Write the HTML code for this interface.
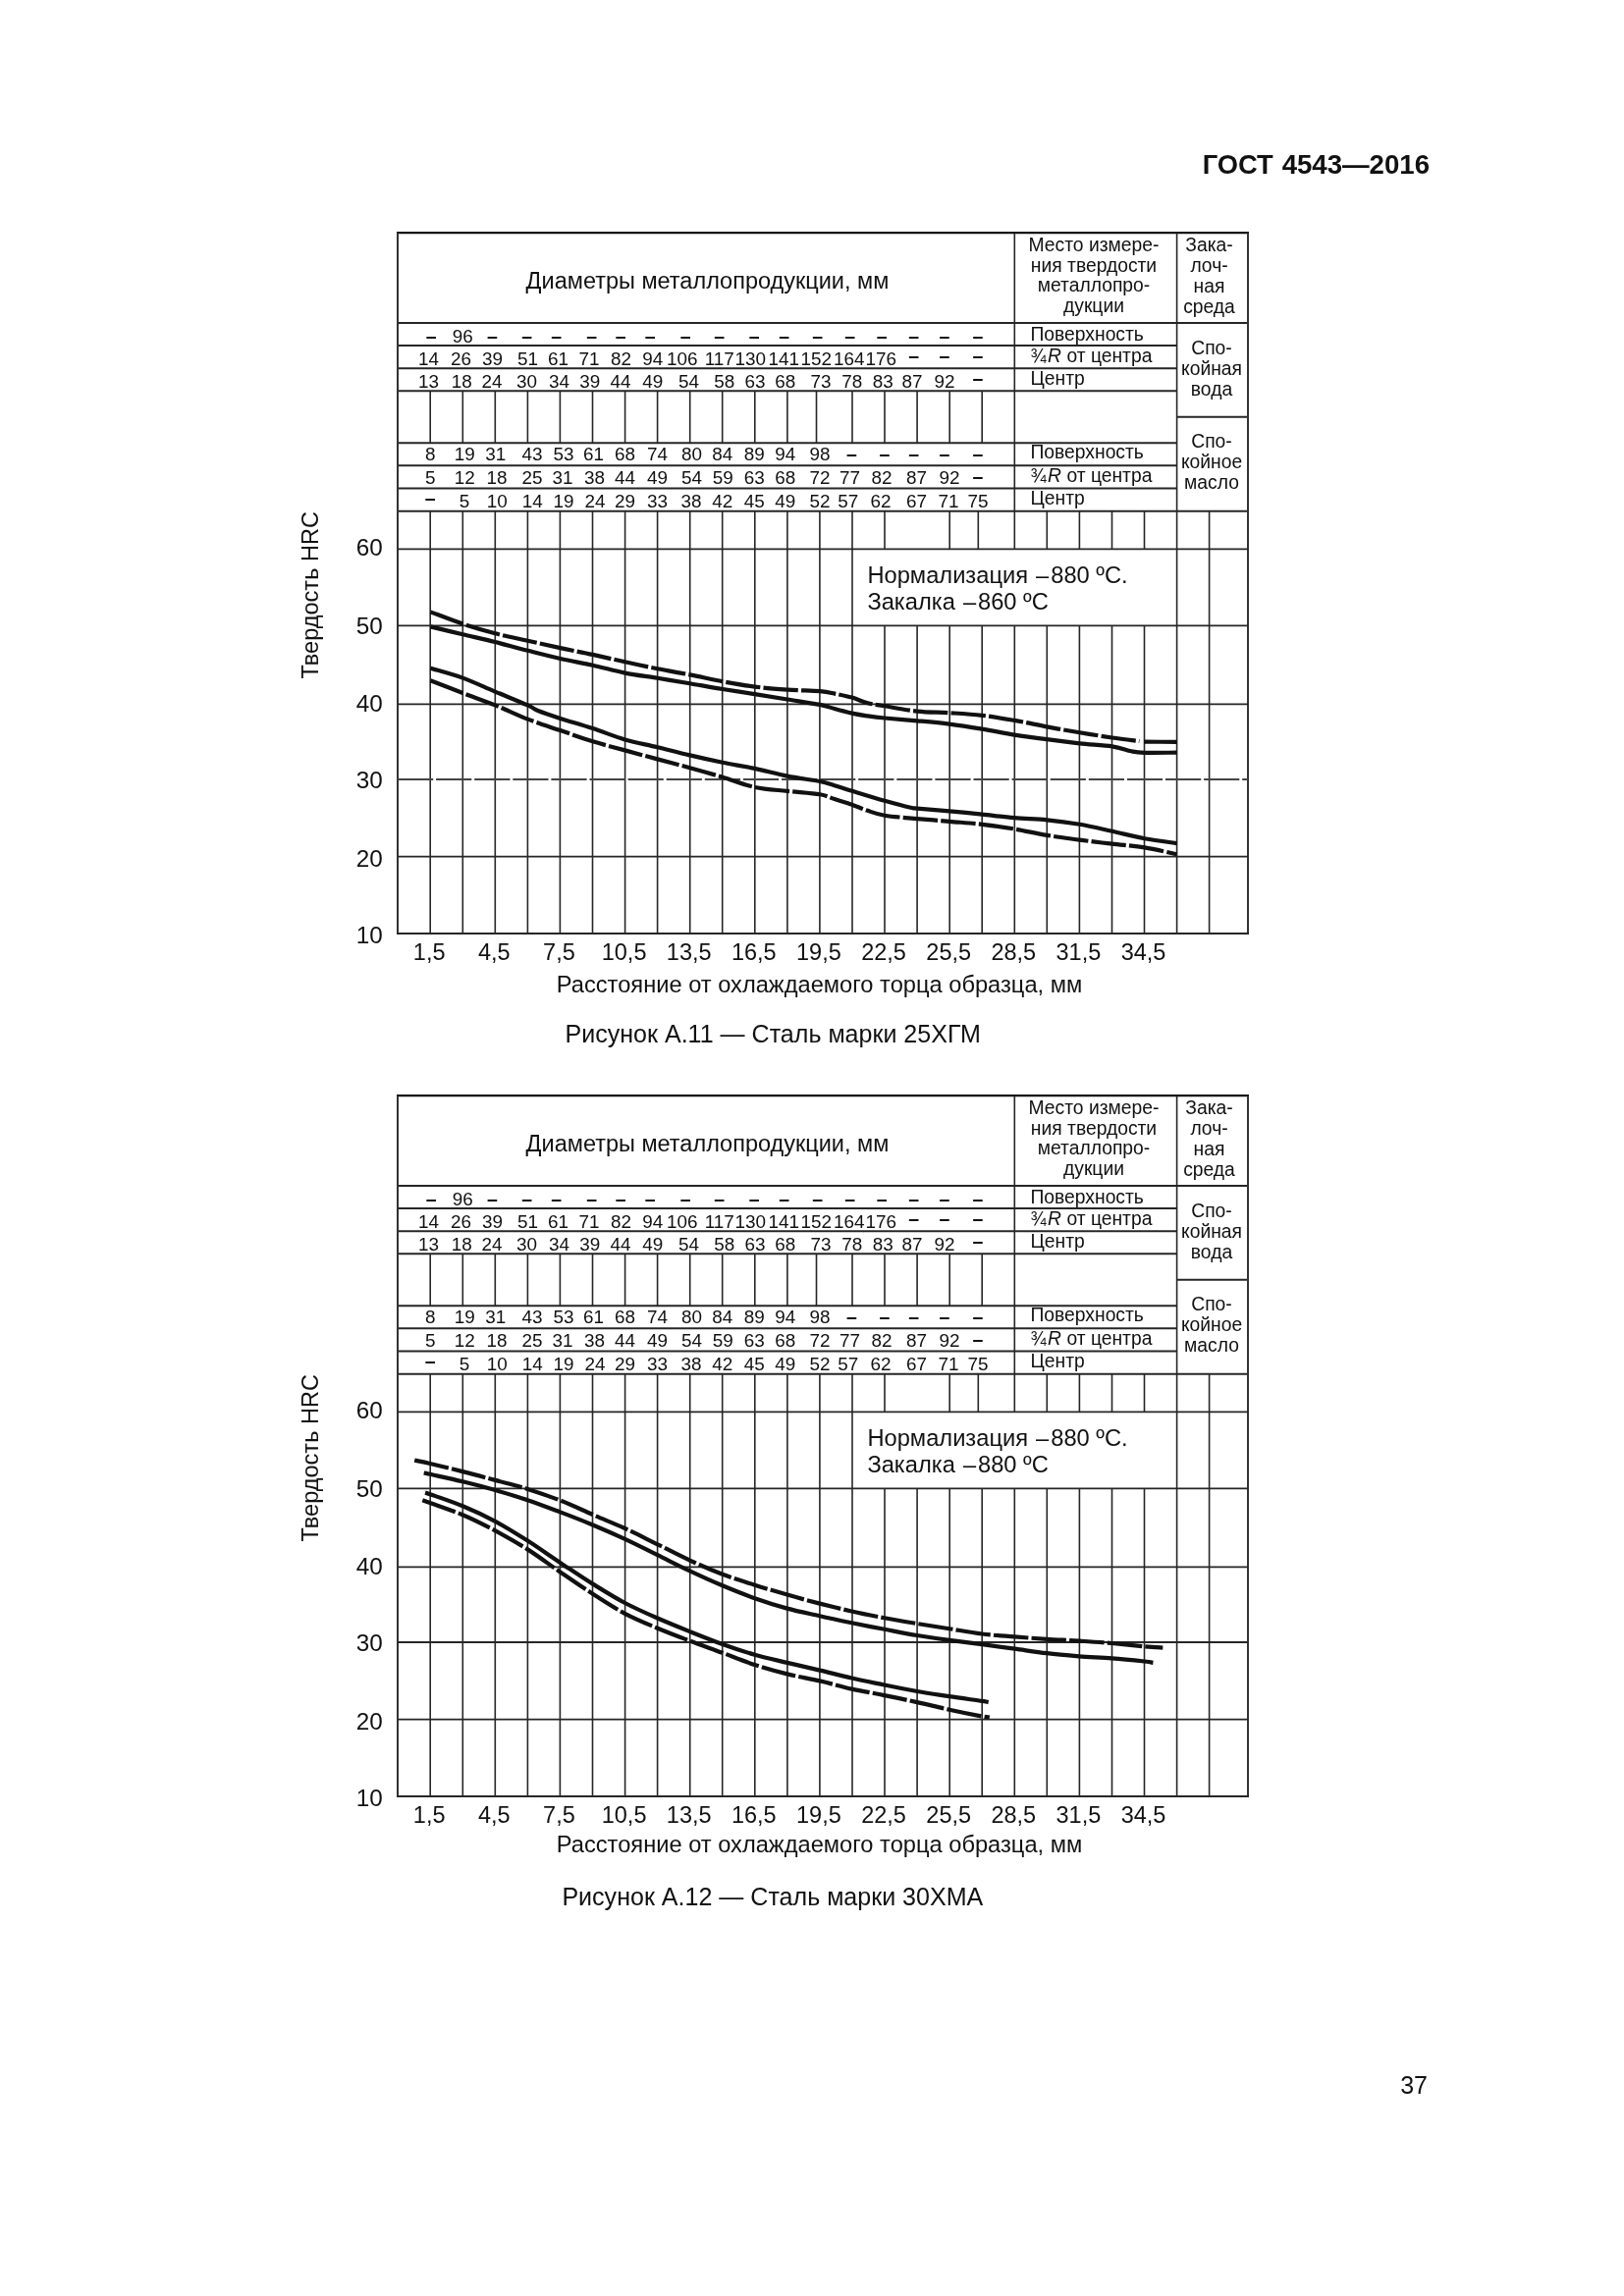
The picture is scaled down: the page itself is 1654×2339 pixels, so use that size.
<!DOCTYPE html>
<html lang="ru"><head><meta charset="utf-8"><title>ГОСТ 4543—2016 — 37</title>
<style>html,body{margin:0;padding:0;background:#fff;}body{width:1654px;height:2339px;overflow:hidden;}svg{display:block;will-change:transform;}</style>
</head><body>
<svg width="1654" height="2339" viewBox="0 0 1654 2339" font-family='"Liberation Sans", Arial, sans-serif' fill="#111">
<rect width="1654" height="2339" fill="#fff"/>
<text x="1224.7" y="177.2" font-size="27.3" font-weight="bold">ГОСТ</text>
<text x="1456" y="177.2" font-size="27.6" font-weight="bold" text-anchor="end">4543—2016</text>
<line x1="404" y1="237.2" x2="1272" y2="237.2" stroke="#111" stroke-width="2.2"/>
<line x1="405" y1="328.9" x2="1271" y2="328.9" stroke="#262626" stroke-width="2.0"/>
<line x1="405" y1="352.1" x2="1198.6" y2="352.1" stroke="#262626" stroke-width="2.0"/>
<line x1="405" y1="375.2" x2="1198.6" y2="375.2" stroke="#262626" stroke-width="2.0"/>
<line x1="405" y1="398.2" x2="1198.6" y2="398.2" stroke="#262626" stroke-width="2.0"/>
<line x1="405" y1="451.2" x2="1198.6" y2="451.2" stroke="#262626" stroke-width="2.0"/>
<line x1="405" y1="474.3" x2="1198.6" y2="474.3" stroke="#262626" stroke-width="2.0"/>
<line x1="405" y1="497.4" x2="1198.6" y2="497.4" stroke="#262626" stroke-width="2.0"/>
<line x1="1198.6" y1="424.7" x2="1271" y2="424.7" stroke="#262626" stroke-width="2.0"/>
<line x1="405" y1="520.7" x2="1271" y2="520.7" stroke="#262626" stroke-width="2.0"/>
<line x1="405" y1="237.2" x2="405" y2="952" stroke="#333" stroke-width="2.0"/>
<line x1="1271" y1="237.2" x2="1271" y2="952" stroke="#333" stroke-width="2.0"/>
<line x1="1033.3" y1="237.2" x2="1033.3" y2="520.7" stroke="#262626" stroke-width="1.6"/>
<line x1="1198.6" y1="237.2" x2="1198.6" y2="520.7" stroke="#262626" stroke-width="1.6"/>
<line x1="438.2" y1="398.2" x2="438.2" y2="451.2" stroke="#262626" stroke-width="1.6"/>
<line x1="471.3" y1="398.2" x2="471.3" y2="451.2" stroke="#262626" stroke-width="1.6"/>
<line x1="504.3" y1="398.2" x2="504.3" y2="451.2" stroke="#262626" stroke-width="1.6"/>
<line x1="537.4" y1="398.2" x2="537.4" y2="451.2" stroke="#262626" stroke-width="1.6"/>
<line x1="570.4" y1="398.2" x2="570.4" y2="451.2" stroke="#262626" stroke-width="1.6"/>
<line x1="603.5" y1="398.2" x2="603.5" y2="451.2" stroke="#262626" stroke-width="1.6"/>
<line x1="636.6" y1="398.2" x2="636.6" y2="451.2" stroke="#262626" stroke-width="1.6"/>
<line x1="669.6" y1="398.2" x2="669.6" y2="451.2" stroke="#262626" stroke-width="1.6"/>
<line x1="702.7" y1="398.2" x2="702.7" y2="451.2" stroke="#262626" stroke-width="1.6"/>
<line x1="735.7" y1="398.2" x2="735.7" y2="451.2" stroke="#262626" stroke-width="1.6"/>
<line x1="768.8" y1="398.2" x2="768.8" y2="451.2" stroke="#262626" stroke-width="1.6"/>
<line x1="801.9" y1="398.2" x2="801.9" y2="451.2" stroke="#262626" stroke-width="1.6"/>
<line x1="831.5" y1="398.2" x2="831.5" y2="451.2" stroke="#262626" stroke-width="1.6"/>
<line x1="868" y1="398.2" x2="868" y2="451.2" stroke="#262626" stroke-width="1.6"/>
<line x1="901" y1="398.2" x2="901" y2="451.2" stroke="#262626" stroke-width="1.6"/>
<line x1="934.1" y1="398.2" x2="934.1" y2="451.2" stroke="#262626" stroke-width="1.6"/>
<line x1="967.2" y1="398.2" x2="967.2" y2="451.2" stroke="#262626" stroke-width="1.6"/>
<line x1="1000.2" y1="398.2" x2="1000.2" y2="451.2" stroke="#262626" stroke-width="1.6"/>
<line x1="438.2" y1="520.7" x2="438.2" y2="559.4" stroke="#262626" stroke-width="1.6"/>
<line x1="438.2" y1="559.4" x2="438.2" y2="637.4" stroke="#262626" stroke-width="1.6"/>
<line x1="438.2" y1="637.4" x2="438.2" y2="951" stroke="#262626" stroke-width="1.6"/>
<line x1="471.3" y1="520.7" x2="471.3" y2="559.4" stroke="#262626" stroke-width="1.6"/>
<line x1="471.3" y1="559.4" x2="471.3" y2="637.4" stroke="#262626" stroke-width="1.6"/>
<line x1="471.3" y1="637.4" x2="471.3" y2="951" stroke="#262626" stroke-width="1.6"/>
<line x1="504.3" y1="520.7" x2="504.3" y2="559.4" stroke="#262626" stroke-width="1.6"/>
<line x1="504.3" y1="559.4" x2="504.3" y2="637.4" stroke="#262626" stroke-width="1.6"/>
<line x1="504.3" y1="637.4" x2="504.3" y2="951" stroke="#262626" stroke-width="1.6"/>
<line x1="537.4" y1="520.7" x2="537.4" y2="559.4" stroke="#262626" stroke-width="1.6"/>
<line x1="537.4" y1="559.4" x2="537.4" y2="637.4" stroke="#262626" stroke-width="1.6"/>
<line x1="537.4" y1="637.4" x2="537.4" y2="951" stroke="#262626" stroke-width="1.6"/>
<line x1="570.4" y1="520.7" x2="570.4" y2="559.4" stroke="#262626" stroke-width="1.6"/>
<line x1="570.4" y1="559.4" x2="570.4" y2="637.4" stroke="#262626" stroke-width="1.6"/>
<line x1="570.4" y1="637.4" x2="570.4" y2="951" stroke="#262626" stroke-width="1.6"/>
<line x1="603.5" y1="520.7" x2="603.5" y2="559.4" stroke="#262626" stroke-width="1.6"/>
<line x1="603.5" y1="559.4" x2="603.5" y2="637.4" stroke="#262626" stroke-width="1.6"/>
<line x1="603.5" y1="637.4" x2="603.5" y2="951" stroke="#262626" stroke-width="1.6"/>
<line x1="636.6" y1="520.7" x2="636.6" y2="559.4" stroke="#262626" stroke-width="1.6"/>
<line x1="636.6" y1="559.4" x2="636.6" y2="637.4" stroke="#262626" stroke-width="1.6"/>
<line x1="636.6" y1="637.4" x2="636.6" y2="951" stroke="#262626" stroke-width="1.6"/>
<line x1="669.6" y1="520.7" x2="669.6" y2="559.4" stroke="#262626" stroke-width="1.6"/>
<line x1="669.6" y1="559.4" x2="669.6" y2="637.4" stroke="#262626" stroke-width="1.6"/>
<line x1="669.6" y1="637.4" x2="669.6" y2="951" stroke="#262626" stroke-width="1.6"/>
<line x1="702.7" y1="520.7" x2="702.7" y2="559.4" stroke="#262626" stroke-width="1.6"/>
<line x1="702.7" y1="559.4" x2="702.7" y2="637.4" stroke="#262626" stroke-width="1.6"/>
<line x1="702.7" y1="637.4" x2="702.7" y2="951" stroke="#262626" stroke-width="1.6"/>
<line x1="735.7" y1="520.7" x2="735.7" y2="559.4" stroke="#262626" stroke-width="1.6"/>
<line x1="735.7" y1="559.4" x2="735.7" y2="637.4" stroke="#262626" stroke-width="1.6"/>
<line x1="735.7" y1="637.4" x2="735.7" y2="951" stroke="#262626" stroke-width="1.6"/>
<line x1="768.8" y1="520.7" x2="768.8" y2="559.4" stroke="#262626" stroke-width="1.6"/>
<line x1="768.8" y1="559.4" x2="768.8" y2="637.4" stroke="#262626" stroke-width="1.6"/>
<line x1="768.8" y1="637.4" x2="768.8" y2="951" stroke="#262626" stroke-width="1.6"/>
<line x1="801.9" y1="520.7" x2="801.9" y2="559.4" stroke="#262626" stroke-width="1.6"/>
<line x1="801.9" y1="559.4" x2="801.9" y2="637.4" stroke="#262626" stroke-width="1.6"/>
<line x1="801.9" y1="637.4" x2="801.9" y2="951" stroke="#262626" stroke-width="1.6"/>
<line x1="834.9" y1="520.7" x2="834.9" y2="559.4" stroke="#262626" stroke-width="1.6"/>
<line x1="834.9" y1="559.4" x2="834.9" y2="637.4" stroke="#262626" stroke-width="1.6"/>
<line x1="834.9" y1="637.4" x2="834.9" y2="951" stroke="#262626" stroke-width="1.6"/>
<line x1="868" y1="520.7" x2="868" y2="559.4" stroke="#262626" stroke-width="1.6"/>
<line x1="868" y1="559.4" x2="868" y2="637.4" stroke="#262626" stroke-width="1.6"/>
<line x1="868" y1="637.4" x2="868" y2="951" stroke="#262626" stroke-width="1.6"/>
<line x1="901" y1="520.7" x2="901" y2="559.4" stroke="#262626" stroke-width="1.6"/>
<line x1="901" y1="637.4" x2="901" y2="951" stroke="#262626" stroke-width="1.6"/>
<line x1="934.1" y1="637.4" x2="934.1" y2="951" stroke="#262626" stroke-width="1.6"/>
<line x1="967.2" y1="520.7" x2="967.2" y2="559.4" stroke="#262626" stroke-width="1.6"/>
<line x1="967.2" y1="637.4" x2="967.2" y2="951" stroke="#262626" stroke-width="1.6"/>
<line x1="996.3" y1="520.7" x2="996.3" y2="559.4" stroke="#262626" stroke-width="1.6"/>
<line x1="1000.2" y1="637.4" x2="1000.2" y2="951" stroke="#262626" stroke-width="1.6"/>
<line x1="1033.3" y1="520.7" x2="1033.3" y2="559.4" stroke="#262626" stroke-width="1.6"/>
<line x1="1033.3" y1="637.4" x2="1033.3" y2="951" stroke="#262626" stroke-width="1.6"/>
<line x1="1066.3" y1="520.7" x2="1066.3" y2="559.4" stroke="#262626" stroke-width="1.6"/>
<line x1="1066.3" y1="637.4" x2="1066.3" y2="951" stroke="#262626" stroke-width="1.6"/>
<line x1="1099.4" y1="520.7" x2="1099.4" y2="559.4" stroke="#262626" stroke-width="1.6"/>
<line x1="1099.4" y1="637.4" x2="1099.4" y2="951" stroke="#262626" stroke-width="1.6"/>
<line x1="1132.5" y1="520.7" x2="1132.5" y2="559.4" stroke="#262626" stroke-width="1.6"/>
<line x1="1132.5" y1="637.4" x2="1132.5" y2="951" stroke="#262626" stroke-width="1.6"/>
<line x1="1165.5" y1="520.7" x2="1165.5" y2="559.4" stroke="#262626" stroke-width="1.6"/>
<line x1="1165.5" y1="637.4" x2="1165.5" y2="951" stroke="#262626" stroke-width="1.6"/>
<line x1="1198.6" y1="520.7" x2="1198.6" y2="559.4" stroke="#262626" stroke-width="1.6"/>
<line x1="1198.6" y1="559.4" x2="1198.6" y2="637.4" stroke="#262626" stroke-width="1.6"/>
<line x1="1198.6" y1="637.4" x2="1198.6" y2="951" stroke="#262626" stroke-width="1.6"/>
<line x1="1231.6" y1="520.7" x2="1231.6" y2="559.4" stroke="#262626" stroke-width="1.6"/>
<line x1="1231.6" y1="559.4" x2="1231.6" y2="637.4" stroke="#262626" stroke-width="1.6"/>
<line x1="1231.6" y1="637.4" x2="1231.6" y2="951" stroke="#262626" stroke-width="1.6"/>
<line x1="405" y1="559.4" x2="1271" y2="559.4" stroke="#262626" stroke-width="1.8"/>
<line x1="405" y1="637.4" x2="1271" y2="637.4" stroke="#262626" stroke-width="1.8"/>
<line x1="405" y1="717.3" x2="1271" y2="717.3" stroke="#262626" stroke-width="1.8"/>
<line x1="405" y1="794" x2="1271" y2="794" stroke="#444" stroke-width="1.8" stroke-dasharray="36.2 2.9"/>
<line x1="405" y1="872.7" x2="1271" y2="872.7" stroke="#262626" stroke-width="1.8"/>
<line x1="404" y1="951" x2="1272" y2="951" stroke="#262626" stroke-width="2.0"/>
<text x="720.5" y="293.7" font-size="23.5" text-anchor="middle">Диаметры металлопродукции, мм</text>
<text x="1114" y="255.7" font-size="19.3" text-anchor="middle">Место измере-</text>
<text x="1114" y="276.6" font-size="19.3" text-anchor="middle">ния твердости</text>
<text x="1114" y="297.4" font-size="19.3" text-anchor="middle">металлопро-</text>
<text x="1114" y="318.2" font-size="19.3" text-anchor="middle">дукции</text>
<text x="1231.5" y="255.8" font-size="19.3" text-anchor="middle">Зака-</text>
<text x="1231.5" y="276.7" font-size="19.3" text-anchor="middle">лоч-</text>
<text x="1231.5" y="297.6" font-size="19.3" text-anchor="middle">ная</text>
<text x="1231.5" y="318.5" font-size="19.3" text-anchor="middle">среда</text>
<text x="1234" y="361.2" font-size="19.3" text-anchor="middle">Спо-</text>
<text x="1234" y="382" font-size="19.3" text-anchor="middle">койная</text>
<text x="1234" y="402.8" font-size="19.3" text-anchor="middle">вода</text>
<text x="1234" y="455.8" font-size="19.3" text-anchor="middle">Спо-</text>
<text x="1234" y="476.7" font-size="19.3" text-anchor="middle">койное</text>
<text x="1234" y="497.6" font-size="19.3" text-anchor="middle">масло</text>
<text x="1049.5" y="346.9" font-size="19.3">Поверхность</text>
<text x="1049.5" y="369.3" font-size="19.3">¾<tspan dx="1.5" font-style="italic">R</tspan> от центра</text>
<text x="1049.5" y="391.6" font-size="19.3">Центр</text>
<text x="1049.5" y="466.6" font-size="19.3">Поверхность</text>
<text x="1049.5" y="490.7" font-size="19.3">¾<tspan dx="1.5" font-style="italic">R</tspan> от центра</text>
<text x="1049.5" y="514" font-size="19.3">Центр</text>
<text x="439.2" y="349.2" font-size="19.5" text-anchor="middle" font-weight="bold">–</text>
<text x="471.2" y="348.7" font-size="18.9" text-anchor="middle">96</text>
<text x="501.4" y="349.2" font-size="19.5" text-anchor="middle" font-weight="bold">–</text>
<text x="536.6" y="349.2" font-size="19.5" text-anchor="middle" font-weight="bold">–</text>
<text x="566.6" y="349.2" font-size="19.5" text-anchor="middle" font-weight="bold">–</text>
<text x="602.6" y="349.2" font-size="19.5" text-anchor="middle" font-weight="bold">–</text>
<text x="632.2" y="349.2" font-size="19.5" text-anchor="middle" font-weight="bold">–</text>
<text x="662.3" y="349.2" font-size="19.5" text-anchor="middle" font-weight="bold">–</text>
<text x="698.2" y="349.2" font-size="19.5" text-anchor="middle" font-weight="bold">–</text>
<text x="732.8" y="349.2" font-size="19.5" text-anchor="middle" font-weight="bold">–</text>
<text x="768.3" y="349.2" font-size="19.5" text-anchor="middle" font-weight="bold">–</text>
<text x="798.8" y="349.2" font-size="19.5" text-anchor="middle" font-weight="bold">–</text>
<text x="832.7" y="349.2" font-size="19.5" text-anchor="middle" font-weight="bold">–</text>
<text x="865.8" y="349.2" font-size="19.5" text-anchor="middle" font-weight="bold">–</text>
<text x="898.3" y="349.2" font-size="19.5" text-anchor="middle" font-weight="bold">–</text>
<text x="930.8" y="349.2" font-size="19.5" text-anchor="middle" font-weight="bold">–</text>
<text x="962" y="349.2" font-size="19.5" text-anchor="middle" font-weight="bold">–</text>
<text x="995.9" y="349.2" font-size="19.5" text-anchor="middle" font-weight="bold">–</text>
<text x="436.5" y="372" font-size="18.9" text-anchor="middle">14</text>
<text x="469.4" y="372" font-size="18.9" text-anchor="middle">26</text>
<text x="501.4" y="372" font-size="18.9" text-anchor="middle">39</text>
<text x="537.4" y="372" font-size="18.9" text-anchor="middle">51</text>
<text x="568.5" y="372" font-size="18.9" text-anchor="middle">61</text>
<text x="600" y="372" font-size="18.9" text-anchor="middle">71</text>
<text x="632.6" y="372" font-size="18.9" text-anchor="middle">82</text>
<text x="664.7" y="372" font-size="18.9" text-anchor="middle">94</text>
<text x="694.7" y="372" font-size="18.9" text-anchor="middle">106</text>
<text x="732.8" y="372" font-size="18.9" text-anchor="middle">117</text>
<text x="764.3" y="372" font-size="18.9" text-anchor="middle">130</text>
<text x="798.2" y="372" font-size="18.9" text-anchor="middle">141</text>
<text x="831.3" y="372" font-size="18.9" text-anchor="middle">152</text>
<text x="864.8" y="372" font-size="18.9" text-anchor="middle">164</text>
<text x="897.3" y="372" font-size="18.9" text-anchor="middle">176</text>
<text x="930.8" y="368.5" font-size="19.5" text-anchor="middle" font-weight="bold">–</text>
<text x="962" y="368.5" font-size="19.5" text-anchor="middle" font-weight="bold">–</text>
<text x="995.9" y="368.5" font-size="19.5" text-anchor="middle" font-weight="bold">–</text>
<text x="436.6" y="394.8" font-size="18.9" text-anchor="middle">13</text>
<text x="470.2" y="394.8" font-size="18.9" text-anchor="middle">18</text>
<text x="501.1" y="394.8" font-size="18.9" text-anchor="middle">24</text>
<text x="536.6" y="394.8" font-size="18.9" text-anchor="middle">30</text>
<text x="569.5" y="394.8" font-size="18.9" text-anchor="middle">34</text>
<text x="600.7" y="394.8" font-size="18.9" text-anchor="middle">39</text>
<text x="632" y="394.8" font-size="18.9" text-anchor="middle">44</text>
<text x="664.7" y="394.8" font-size="18.9" text-anchor="middle">49</text>
<text x="701.5" y="394.8" font-size="18.9" text-anchor="middle">54</text>
<text x="737.7" y="394.8" font-size="18.9" text-anchor="middle">58</text>
<text x="768.9" y="394.8" font-size="18.9" text-anchor="middle">63</text>
<text x="799.8" y="394.8" font-size="18.9" text-anchor="middle">68</text>
<text x="835.9" y="394.8" font-size="18.9" text-anchor="middle">73</text>
<text x="867.8" y="394.8" font-size="18.9" text-anchor="middle">78</text>
<text x="899.3" y="394.8" font-size="18.9" text-anchor="middle">83</text>
<text x="928.9" y="394.8" font-size="18.9" text-anchor="middle">87</text>
<text x="962" y="394.8" font-size="18.9" text-anchor="middle">92</text>
<text x="995.9" y="391.9" font-size="19.5" text-anchor="middle" font-weight="bold">–</text>
<text x="438.2" y="468.7" font-size="18.9" text-anchor="middle">8</text>
<text x="473.3" y="468.7" font-size="18.9" text-anchor="middle">19</text>
<text x="504.8" y="468.7" font-size="18.9" text-anchor="middle">31</text>
<text x="542" y="468.7" font-size="18.9" text-anchor="middle">43</text>
<text x="574.1" y="468.7" font-size="18.9" text-anchor="middle">53</text>
<text x="604.6" y="468.7" font-size="18.9" text-anchor="middle">61</text>
<text x="636.5" y="468.7" font-size="18.9" text-anchor="middle">68</text>
<text x="669.4" y="468.7" font-size="18.9" text-anchor="middle">74</text>
<text x="704.5" y="468.7" font-size="18.9" text-anchor="middle">80</text>
<text x="735.8" y="468.7" font-size="18.9" text-anchor="middle">84</text>
<text x="768.3" y="468.7" font-size="18.9" text-anchor="middle">89</text>
<text x="799.8" y="468.7" font-size="18.9" text-anchor="middle">94</text>
<text x="834.9" y="468.7" font-size="18.9" text-anchor="middle">98</text>
<text x="867.4" y="468.8" font-size="19.5" text-anchor="middle" font-weight="bold">–</text>
<text x="900.9" y="468.8" font-size="19.5" text-anchor="middle" font-weight="bold">–</text>
<text x="930.8" y="468.8" font-size="19.5" text-anchor="middle" font-weight="bold">–</text>
<text x="962" y="468.8" font-size="19.5" text-anchor="middle" font-weight="bold">–</text>
<text x="995.9" y="468.8" font-size="19.5" text-anchor="middle" font-weight="bold">–</text>
<text x="438.2" y="492.8" font-size="18.9" text-anchor="middle">5</text>
<text x="473.3" y="492.8" font-size="18.9" text-anchor="middle">12</text>
<text x="506.1" y="492.8" font-size="18.9" text-anchor="middle">18</text>
<text x="542" y="492.8" font-size="18.9" text-anchor="middle">25</text>
<text x="573.1" y="492.8" font-size="18.9" text-anchor="middle">31</text>
<text x="605.6" y="492.8" font-size="18.9" text-anchor="middle">38</text>
<text x="636.5" y="492.8" font-size="18.9" text-anchor="middle">44</text>
<text x="669.4" y="492.8" font-size="18.9" text-anchor="middle">49</text>
<text x="704.5" y="492.8" font-size="18.9" text-anchor="middle">54</text>
<text x="736.2" y="492.8" font-size="18.9" text-anchor="middle">59</text>
<text x="768.3" y="492.8" font-size="18.9" text-anchor="middle">63</text>
<text x="799.8" y="492.8" font-size="18.9" text-anchor="middle">68</text>
<text x="834.9" y="492.8" font-size="18.9" text-anchor="middle">72</text>
<text x="865.4" y="492.8" font-size="18.9" text-anchor="middle">77</text>
<text x="897.9" y="492.8" font-size="18.9" text-anchor="middle">82</text>
<text x="933.4" y="492.8" font-size="18.9" text-anchor="middle">87</text>
<text x="966.9" y="492.8" font-size="18.9" text-anchor="middle">92</text>
<text x="995.9" y="491.5" font-size="19.5" text-anchor="middle" font-weight="bold">–</text>
<text x="438.2" y="514.3" font-size="19.5" text-anchor="middle" font-weight="bold">–</text>
<text x="473" y="516.8" font-size="18.9" text-anchor="middle">5</text>
<text x="506.2" y="516.8" font-size="18.9" text-anchor="middle">10</text>
<text x="542.3" y="516.8" font-size="18.9" text-anchor="middle">14</text>
<text x="574.1" y="516.8" font-size="18.9" text-anchor="middle">19</text>
<text x="606" y="516.8" font-size="18.9" text-anchor="middle">24</text>
<text x="636.5" y="516.8" font-size="18.9" text-anchor="middle">29</text>
<text x="669.4" y="516.8" font-size="18.9" text-anchor="middle">33</text>
<text x="703.9" y="516.8" font-size="18.9" text-anchor="middle">38</text>
<text x="735.8" y="516.8" font-size="18.9" text-anchor="middle">42</text>
<text x="768.3" y="516.8" font-size="18.9" text-anchor="middle">45</text>
<text x="799.8" y="516.8" font-size="18.9" text-anchor="middle">49</text>
<text x="834.9" y="516.8" font-size="18.9" text-anchor="middle">52</text>
<text x="863.8" y="516.8" font-size="18.9" text-anchor="middle">57</text>
<text x="897" y="516.8" font-size="18.9" text-anchor="middle">62</text>
<text x="933.4" y="516.8" font-size="18.9" text-anchor="middle">67</text>
<text x="965.9" y="516.8" font-size="18.9" text-anchor="middle">71</text>
<text x="995.9" y="516.8" font-size="18.9" text-anchor="middle">75</text>
<text x="389.8" y="566.4" font-size="24.3" text-anchor="end">60</text>
<text x="389.8" y="645.5" font-size="24.3" text-anchor="end">50</text>
<text x="389.8" y="725.1" font-size="24.3" text-anchor="end">40</text>
<text x="389.8" y="803.4" font-size="24.3" text-anchor="end">30</text>
<text x="389.8" y="882.9" font-size="24.3" text-anchor="end">20</text>
<text x="389.8" y="960.8" font-size="24.3" text-anchor="end">10</text>
<text transform="translate(323.8,691.5) rotate(-90)" font-size="23.55">Твердость HRC</text>
<text x="437.2" y="977.6" font-size="23.5" text-anchor="middle">1,5</text>
<text x="503.3" y="977.6" font-size="23.5" text-anchor="middle">4,5</text>
<text x="569.4" y="977.6" font-size="23.5" text-anchor="middle">7,5</text>
<text x="635.6" y="977.6" font-size="23.5" text-anchor="middle">10,5</text>
<text x="701.7" y="977.6" font-size="23.5" text-anchor="middle">13,5</text>
<text x="767.8" y="977.6" font-size="23.5" text-anchor="middle">16,5</text>
<text x="833.9" y="977.6" font-size="23.5" text-anchor="middle">19,5</text>
<text x="900" y="977.6" font-size="23.5" text-anchor="middle">22,5</text>
<text x="966.2" y="977.6" font-size="23.5" text-anchor="middle">25,5</text>
<text x="1032.3" y="977.6" font-size="23.5" text-anchor="middle">28,5</text>
<text x="1098.4" y="977.6" font-size="23.5" text-anchor="middle">31,5</text>
<text x="1164.5" y="977.6" font-size="23.5" text-anchor="middle">34,5</text>
<text x="566.8" y="1010.7" font-size="23.66">Расстояние от охлаждаемого торца образца, мм</text>
<text x="575.5" y="1061.7" font-size="25.05">Рисунок А.11 — Сталь марки 25ХГМ</text>
<text x="883.4" y="594.3" font-size="23.7">Нормализация <tspan dx="1.5">–</tspan><tspan dx="1.9">880 ºC.</tspan></text>
<text x="883.4" y="621.4" font-size="23.7">Закалка <tspan dx="1.5">–</tspan><tspan dx="1.9">860 ºC</tspan></text>
<path d="M438.4,623.4 C443.9,625.4 460.3,631.9 471.3,635.5 C482.3,639.1 493.3,642.4 504.3,645.3 C515.3,648.2 526.3,650.2 537.4,652.7 C548.5,655.2 559.7,657.7 570.7,660.1 C581.8,662.5 592.7,664.5 603.7,666.9 C614.7,669.3 625.5,671.9 636.5,674.3 C647.5,676.7 658.6,679.1 669.6,681.3 C680.6,683.5 691.6,685.2 702.6,687.4 C713.6,689.5 724.9,692.2 735.9,694.2 C746.9,696.2 757.7,698.2 768.7,699.6 C779.7,701.0 790.8,701.8 801.9,702.6 C813.0,703.4 827.1,703.5 835.1,704.2 C843.1,704.9 844.6,705.5 850.0,706.6 C855.4,707.7 862.2,709.0 867.7,710.6 C873.2,712.2 877.5,714.5 883.0,716.0 C888.5,717.5 892.5,717.9 901.0,719.3 C909.5,720.7 923.2,723.5 934.2,724.6 C945.2,725.8 955.9,725.5 966.9,726.2 C977.9,726.9 989.2,727.5 1000.2,728.8 C1011.2,730.1 1022.1,732.0 1033.1,733.9 C1044.1,735.8 1055.1,738.3 1066.2,740.4 C1077.3,742.5 1088.5,744.4 1099.6,746.2 C1110.7,748.1 1122.5,750.0 1132.6,751.5 C1142.7,753.0 1155.8,754.5 1160.4,755.1" fill="none" stroke="#111" stroke-width="4.2" stroke-dasharray="35.5 3.2" stroke-linejoin="round"/>
<path d="M1165.1,755.6 C1170.6,755.6 1192.9,755.9 1198.4,755.9" fill="none" stroke="#111" stroke-width="4.2" stroke-linejoin="round"/>
<path d="M438.4,638.4 C443.9,639.7 460.3,643.7 471.3,646.3 C482.3,648.9 493.3,651.2 504.3,654.0 C515.3,656.8 526.3,660.0 537.4,662.8 C548.5,665.6 559.7,668.5 570.7,671.0 C581.8,673.5 592.7,675.3 603.7,677.7 C614.7,680.1 625.5,683.4 636.5,685.6 C647.5,687.8 658.6,689.0 669.6,690.8 C680.6,692.6 691.6,694.3 702.6,696.2 C713.6,698.1 724.9,700.2 735.9,702.0 C746.9,703.8 757.7,705.4 768.7,707.1 C779.7,708.9 790.8,710.7 801.9,712.5 C813.0,714.3 827.1,716.3 835.1,717.9 C843.1,719.5 844.6,720.6 850.0,722.1 C855.4,723.6 862.2,725.4 867.7,726.6 C873.2,727.8 877.5,728.5 883.0,729.3 C888.5,730.1 892.5,730.7 901.0,731.5 C909.5,732.3 923.2,733.3 934.2,734.3 C945.2,735.3 955.9,736.2 966.9,737.6 C977.9,739.0 989.2,740.8 1000.2,742.6 C1011.2,744.4 1022.1,746.8 1033.1,748.6 C1044.1,750.4 1055.1,751.8 1066.2,753.2 C1077.3,754.7 1088.5,756.1 1099.6,757.3 C1110.7,758.5 1123.8,759.0 1132.6,760.3 C1141.4,761.6 1146.7,764.2 1152.2,765.3 C1157.7,766.4 1158.0,766.6 1165.7,766.8 C1173.4,767.0 1193.0,766.7 1198.4,766.7" fill="none" stroke="#111" stroke-width="4.2" stroke-linejoin="round"/>
<path d="M438.4,680.7 C443.9,682.4 460.3,686.6 471.3,690.6 C482.3,694.6 493.3,700.0 504.3,704.6 C515.3,709.2 530.1,715.2 537.4,718.4 C544.7,721.6 542.3,721.8 547.9,724.0 C553.5,726.2 561.4,728.9 570.7,731.9 C580.0,734.9 592.7,738.5 603.7,742.1 C614.7,745.7 625.5,750.2 636.5,753.4 C647.5,756.6 658.6,758.5 669.6,761.2 C680.6,763.9 691.6,766.8 702.6,769.4 C713.6,772.0 724.9,774.5 735.9,776.8 C746.9,779.0 757.7,780.6 768.7,782.9 C779.7,785.2 790.8,788.4 801.9,790.6 C813.0,792.8 827.1,794.4 835.1,796.0 C843.1,797.6 844.6,798.7 850.0,800.3 C855.4,801.9 859.2,803.2 867.7,805.8 C876.2,808.4 891.0,813.0 901.0,815.8 C911.0,818.6 922.1,821.5 927.6,822.8 C933.1,824.1 927.7,823.0 934.2,823.6 C940.8,824.2 955.9,825.3 966.9,826.3 C977.9,827.3 989.2,828.5 1000.2,829.6 C1011.2,830.8 1022.1,832.2 1033.1,833.2 C1044.1,834.2 1055.1,834.2 1066.2,835.3 C1077.3,836.4 1088.5,837.9 1099.6,839.8 C1110.7,841.7 1121.6,844.4 1132.6,846.8 C1143.6,849.2 1154.7,852.2 1165.7,854.2 C1176.7,856.2 1193.0,858.3 1198.4,859.1" fill="none" stroke="#111" stroke-width="4.2" stroke-linejoin="round"/>
<path d="M438.4,693.3 C443.9,695.4 460.3,701.8 471.3,706.0 C482.3,710.2 493.3,714.0 504.3,718.4 C515.3,722.8 526.3,728.3 537.4,732.6 C548.5,736.9 559.7,740.3 570.7,744.1 C581.8,747.9 592.7,751.9 603.7,755.3 C614.7,758.7 625.5,761.4 636.5,764.4 C647.5,767.4 658.6,770.4 669.6,773.4 C680.6,776.4 691.6,779.2 702.6,782.2 C713.6,785.2 724.9,788.4 735.9,791.7 C746.9,795.0 757.7,799.5 768.7,801.9 C779.7,804.3 790.8,804.7 801.9,805.9 C813.0,807.1 827.1,807.9 835.1,809.3 C843.1,810.7 844.6,812.4 850.0,814.1 C855.4,815.8 862.2,817.8 867.7,819.7 C873.2,821.6 877.5,823.8 883.0,825.6 C888.5,827.4 892.5,829.3 901.0,830.7 C909.5,832.1 923.2,833.1 934.2,834.1 C945.2,835.1 955.9,835.8 966.9,836.8 C977.9,837.8 989.2,838.5 1000.2,839.8 C1011.2,841.1 1022.1,842.6 1033.1,844.5 C1044.1,846.4 1055.1,849.0 1066.2,850.9 C1077.3,852.8 1088.5,854.1 1099.6,855.6 C1110.7,857.1 1121.6,858.4 1132.6,859.7 C1143.6,861.0 1154.7,861.6 1165.7,863.4 C1176.7,865.1 1193.0,869.1 1198.4,870.2" fill="none" stroke="#111" stroke-width="4.2" stroke-dasharray="35.5 3.2" stroke-linejoin="round"/>
<line x1="404" y1="1116.2" x2="1272" y2="1116.2" stroke="#111" stroke-width="2.2"/>
<line x1="405" y1="1207.9" x2="1271" y2="1207.9" stroke="#262626" stroke-width="2.0"/>
<line x1="405" y1="1231.1" x2="1198.6" y2="1231.1" stroke="#262626" stroke-width="2.0"/>
<line x1="405" y1="1254.2" x2="1198.6" y2="1254.2" stroke="#262626" stroke-width="2.0"/>
<line x1="405" y1="1277.2" x2="1198.6" y2="1277.2" stroke="#262626" stroke-width="2.0"/>
<line x1="405" y1="1330.2" x2="1198.6" y2="1330.2" stroke="#262626" stroke-width="2.0"/>
<line x1="405" y1="1353.3" x2="1198.6" y2="1353.3" stroke="#262626" stroke-width="2.0"/>
<line x1="405" y1="1376.4" x2="1198.6" y2="1376.4" stroke="#262626" stroke-width="2.0"/>
<line x1="1198.6" y1="1303.7" x2="1271" y2="1303.7" stroke="#262626" stroke-width="2.0"/>
<line x1="405" y1="1399.7" x2="1271" y2="1399.7" stroke="#262626" stroke-width="2.0"/>
<line x1="405" y1="1116.2" x2="405" y2="1831" stroke="#333" stroke-width="2.0"/>
<line x1="1271" y1="1116.2" x2="1271" y2="1831" stroke="#333" stroke-width="2.0"/>
<line x1="1033.3" y1="1116.2" x2="1033.3" y2="1399.7" stroke="#262626" stroke-width="1.6"/>
<line x1="1198.6" y1="1116.2" x2="1198.6" y2="1399.7" stroke="#262626" stroke-width="1.6"/>
<line x1="438.2" y1="1277.2" x2="438.2" y2="1330.2" stroke="#262626" stroke-width="1.6"/>
<line x1="471.3" y1="1277.2" x2="471.3" y2="1330.2" stroke="#262626" stroke-width="1.6"/>
<line x1="504.3" y1="1277.2" x2="504.3" y2="1330.2" stroke="#262626" stroke-width="1.6"/>
<line x1="537.4" y1="1277.2" x2="537.4" y2="1330.2" stroke="#262626" stroke-width="1.6"/>
<line x1="570.4" y1="1277.2" x2="570.4" y2="1330.2" stroke="#262626" stroke-width="1.6"/>
<line x1="603.5" y1="1277.2" x2="603.5" y2="1330.2" stroke="#262626" stroke-width="1.6"/>
<line x1="636.6" y1="1277.2" x2="636.6" y2="1330.2" stroke="#262626" stroke-width="1.6"/>
<line x1="669.6" y1="1277.2" x2="669.6" y2="1330.2" stroke="#262626" stroke-width="1.6"/>
<line x1="702.7" y1="1277.2" x2="702.7" y2="1330.2" stroke="#262626" stroke-width="1.6"/>
<line x1="735.7" y1="1277.2" x2="735.7" y2="1330.2" stroke="#262626" stroke-width="1.6"/>
<line x1="768.8" y1="1277.2" x2="768.8" y2="1330.2" stroke="#262626" stroke-width="1.6"/>
<line x1="801.9" y1="1277.2" x2="801.9" y2="1330.2" stroke="#262626" stroke-width="1.6"/>
<line x1="831.5" y1="1277.2" x2="831.5" y2="1330.2" stroke="#262626" stroke-width="1.6"/>
<line x1="868" y1="1277.2" x2="868" y2="1330.2" stroke="#262626" stroke-width="1.6"/>
<line x1="901" y1="1277.2" x2="901" y2="1330.2" stroke="#262626" stroke-width="1.6"/>
<line x1="934.1" y1="1277.2" x2="934.1" y2="1330.2" stroke="#262626" stroke-width="1.6"/>
<line x1="967.2" y1="1277.2" x2="967.2" y2="1330.2" stroke="#262626" stroke-width="1.6"/>
<line x1="1000.2" y1="1277.2" x2="1000.2" y2="1330.2" stroke="#262626" stroke-width="1.6"/>
<line x1="438.2" y1="1399.7" x2="438.2" y2="1438.4" stroke="#262626" stroke-width="1.6"/>
<line x1="438.2" y1="1438.4" x2="438.2" y2="1516.4" stroke="#262626" stroke-width="1.6"/>
<line x1="438.2" y1="1516.4" x2="438.2" y2="1830" stroke="#262626" stroke-width="1.6"/>
<line x1="471.3" y1="1399.7" x2="471.3" y2="1438.4" stroke="#262626" stroke-width="1.6"/>
<line x1="471.3" y1="1438.4" x2="471.3" y2="1516.4" stroke="#262626" stroke-width="1.6"/>
<line x1="471.3" y1="1516.4" x2="471.3" y2="1830" stroke="#262626" stroke-width="1.6"/>
<line x1="504.3" y1="1399.7" x2="504.3" y2="1438.4" stroke="#262626" stroke-width="1.6"/>
<line x1="504.3" y1="1438.4" x2="504.3" y2="1516.4" stroke="#262626" stroke-width="1.6"/>
<line x1="504.3" y1="1516.4" x2="504.3" y2="1830" stroke="#262626" stroke-width="1.6"/>
<line x1="537.4" y1="1399.7" x2="537.4" y2="1438.4" stroke="#262626" stroke-width="1.6"/>
<line x1="537.4" y1="1438.4" x2="537.4" y2="1516.4" stroke="#262626" stroke-width="1.6"/>
<line x1="537.4" y1="1516.4" x2="537.4" y2="1830" stroke="#262626" stroke-width="1.6"/>
<line x1="570.4" y1="1399.7" x2="570.4" y2="1438.4" stroke="#262626" stroke-width="1.6"/>
<line x1="570.4" y1="1438.4" x2="570.4" y2="1516.4" stroke="#262626" stroke-width="1.6"/>
<line x1="570.4" y1="1516.4" x2="570.4" y2="1830" stroke="#262626" stroke-width="1.6"/>
<line x1="603.5" y1="1399.7" x2="603.5" y2="1438.4" stroke="#262626" stroke-width="1.6"/>
<line x1="603.5" y1="1438.4" x2="603.5" y2="1516.4" stroke="#262626" stroke-width="1.6"/>
<line x1="603.5" y1="1516.4" x2="603.5" y2="1830" stroke="#262626" stroke-width="1.6"/>
<line x1="636.6" y1="1399.7" x2="636.6" y2="1438.4" stroke="#262626" stroke-width="1.6"/>
<line x1="636.6" y1="1438.4" x2="636.6" y2="1516.4" stroke="#262626" stroke-width="1.6"/>
<line x1="636.6" y1="1516.4" x2="636.6" y2="1830" stroke="#262626" stroke-width="1.6"/>
<line x1="669.6" y1="1399.7" x2="669.6" y2="1438.4" stroke="#262626" stroke-width="1.6"/>
<line x1="669.6" y1="1438.4" x2="669.6" y2="1516.4" stroke="#262626" stroke-width="1.6"/>
<line x1="669.6" y1="1516.4" x2="669.6" y2="1830" stroke="#262626" stroke-width="1.6"/>
<line x1="702.7" y1="1399.7" x2="702.7" y2="1438.4" stroke="#262626" stroke-width="1.6"/>
<line x1="702.7" y1="1438.4" x2="702.7" y2="1516.4" stroke="#262626" stroke-width="1.6"/>
<line x1="702.7" y1="1516.4" x2="702.7" y2="1830" stroke="#262626" stroke-width="1.6"/>
<line x1="735.7" y1="1399.7" x2="735.7" y2="1438.4" stroke="#262626" stroke-width="1.6"/>
<line x1="735.7" y1="1438.4" x2="735.7" y2="1516.4" stroke="#262626" stroke-width="1.6"/>
<line x1="735.7" y1="1516.4" x2="735.7" y2="1830" stroke="#262626" stroke-width="1.6"/>
<line x1="768.8" y1="1399.7" x2="768.8" y2="1438.4" stroke="#262626" stroke-width="1.6"/>
<line x1="768.8" y1="1438.4" x2="768.8" y2="1516.4" stroke="#262626" stroke-width="1.6"/>
<line x1="768.8" y1="1516.4" x2="768.8" y2="1830" stroke="#262626" stroke-width="1.6"/>
<line x1="801.9" y1="1399.7" x2="801.9" y2="1438.4" stroke="#262626" stroke-width="1.6"/>
<line x1="801.9" y1="1438.4" x2="801.9" y2="1516.4" stroke="#262626" stroke-width="1.6"/>
<line x1="801.9" y1="1516.4" x2="801.9" y2="1830" stroke="#262626" stroke-width="1.6"/>
<line x1="834.9" y1="1399.7" x2="834.9" y2="1438.4" stroke="#262626" stroke-width="1.6"/>
<line x1="834.9" y1="1438.4" x2="834.9" y2="1516.4" stroke="#262626" stroke-width="1.6"/>
<line x1="834.9" y1="1516.4" x2="834.9" y2="1830" stroke="#262626" stroke-width="1.6"/>
<line x1="868" y1="1399.7" x2="868" y2="1438.4" stroke="#262626" stroke-width="1.6"/>
<line x1="868" y1="1438.4" x2="868" y2="1516.4" stroke="#262626" stroke-width="1.6"/>
<line x1="868" y1="1516.4" x2="868" y2="1830" stroke="#262626" stroke-width="1.6"/>
<line x1="901" y1="1399.7" x2="901" y2="1438.4" stroke="#262626" stroke-width="1.6"/>
<line x1="901" y1="1516.4" x2="901" y2="1830" stroke="#262626" stroke-width="1.6"/>
<line x1="934.1" y1="1516.4" x2="934.1" y2="1830" stroke="#262626" stroke-width="1.6"/>
<line x1="967.2" y1="1399.7" x2="967.2" y2="1438.4" stroke="#262626" stroke-width="1.6"/>
<line x1="967.2" y1="1516.4" x2="967.2" y2="1830" stroke="#262626" stroke-width="1.6"/>
<line x1="996.3" y1="1399.7" x2="996.3" y2="1438.4" stroke="#262626" stroke-width="1.6"/>
<line x1="1000.2" y1="1516.4" x2="1000.2" y2="1830" stroke="#262626" stroke-width="1.6"/>
<line x1="1033.3" y1="1399.7" x2="1033.3" y2="1438.4" stroke="#262626" stroke-width="1.6"/>
<line x1="1033.3" y1="1516.4" x2="1033.3" y2="1830" stroke="#262626" stroke-width="1.6"/>
<line x1="1066.3" y1="1399.7" x2="1066.3" y2="1438.4" stroke="#262626" stroke-width="1.6"/>
<line x1="1066.3" y1="1516.4" x2="1066.3" y2="1830" stroke="#262626" stroke-width="1.6"/>
<line x1="1099.4" y1="1399.7" x2="1099.4" y2="1438.4" stroke="#262626" stroke-width="1.6"/>
<line x1="1099.4" y1="1516.4" x2="1099.4" y2="1830" stroke="#262626" stroke-width="1.6"/>
<line x1="1132.5" y1="1399.7" x2="1132.5" y2="1438.4" stroke="#262626" stroke-width="1.6"/>
<line x1="1132.5" y1="1516.4" x2="1132.5" y2="1830" stroke="#262626" stroke-width="1.6"/>
<line x1="1165.5" y1="1399.7" x2="1165.5" y2="1438.4" stroke="#262626" stroke-width="1.6"/>
<line x1="1165.5" y1="1516.4" x2="1165.5" y2="1830" stroke="#262626" stroke-width="1.6"/>
<line x1="1198.6" y1="1399.7" x2="1198.6" y2="1438.4" stroke="#262626" stroke-width="1.6"/>
<line x1="1198.6" y1="1438.4" x2="1198.6" y2="1516.4" stroke="#262626" stroke-width="1.6"/>
<line x1="1198.6" y1="1516.4" x2="1198.6" y2="1830" stroke="#262626" stroke-width="1.6"/>
<line x1="1231.6" y1="1399.7" x2="1231.6" y2="1438.4" stroke="#262626" stroke-width="1.6"/>
<line x1="1231.6" y1="1438.4" x2="1231.6" y2="1516.4" stroke="#262626" stroke-width="1.6"/>
<line x1="1231.6" y1="1516.4" x2="1231.6" y2="1830" stroke="#262626" stroke-width="1.6"/>
<line x1="405" y1="1438.4" x2="1271" y2="1438.4" stroke="#262626" stroke-width="1.8"/>
<line x1="405" y1="1516.4" x2="1271" y2="1516.4" stroke="#262626" stroke-width="1.8"/>
<line x1="405" y1="1596.3" x2="1271" y2="1596.3" stroke="#262626" stroke-width="1.8"/>
<line x1="405" y1="1673" x2="1271" y2="1673" stroke="#262626" stroke-width="1.8"/>
<line x1="405" y1="1751.7" x2="1271" y2="1751.7" stroke="#262626" stroke-width="1.8"/>
<line x1="404" y1="1830" x2="1272" y2="1830" stroke="#262626" stroke-width="2.0"/>
<text x="720.5" y="1172.7" font-size="23.5" text-anchor="middle">Диаметры металлопродукции, мм</text>
<text x="1114" y="1134.7" font-size="19.3" text-anchor="middle">Место измере-</text>
<text x="1114" y="1155.5" font-size="19.3" text-anchor="middle">ния твердости</text>
<text x="1114" y="1176.4" font-size="19.3" text-anchor="middle">металлопро-</text>
<text x="1114" y="1197.2" font-size="19.3" text-anchor="middle">дукции</text>
<text x="1231.5" y="1134.8" font-size="19.3" text-anchor="middle">Зака-</text>
<text x="1231.5" y="1155.7" font-size="19.3" text-anchor="middle">лоч-</text>
<text x="1231.5" y="1176.6" font-size="19.3" text-anchor="middle">ная</text>
<text x="1231.5" y="1197.5" font-size="19.3" text-anchor="middle">среда</text>
<text x="1234" y="1240.2" font-size="19.3" text-anchor="middle">Спо-</text>
<text x="1234" y="1261" font-size="19.3" text-anchor="middle">койная</text>
<text x="1234" y="1281.8" font-size="19.3" text-anchor="middle">вода</text>
<text x="1234" y="1334.8" font-size="19.3" text-anchor="middle">Спо-</text>
<text x="1234" y="1355.7" font-size="19.3" text-anchor="middle">койное</text>
<text x="1234" y="1376.6" font-size="19.3" text-anchor="middle">масло</text>
<text x="1049.5" y="1225.9" font-size="19.3">Поверхность</text>
<text x="1049.5" y="1248.3" font-size="19.3">¾<tspan dx="1.5" font-style="italic">R</tspan> от центра</text>
<text x="1049.5" y="1270.6" font-size="19.3">Центр</text>
<text x="1049.5" y="1345.6" font-size="19.3">Поверхность</text>
<text x="1049.5" y="1369.7" font-size="19.3">¾<tspan dx="1.5" font-style="italic">R</tspan> от центра</text>
<text x="1049.5" y="1393" font-size="19.3">Центр</text>
<text x="439.2" y="1228.2" font-size="19.5" text-anchor="middle" font-weight="bold">–</text>
<text x="471.2" y="1227.7" font-size="18.9" text-anchor="middle">96</text>
<text x="501.4" y="1228.2" font-size="19.5" text-anchor="middle" font-weight="bold">–</text>
<text x="536.6" y="1228.2" font-size="19.5" text-anchor="middle" font-weight="bold">–</text>
<text x="566.6" y="1228.2" font-size="19.5" text-anchor="middle" font-weight="bold">–</text>
<text x="602.6" y="1228.2" font-size="19.5" text-anchor="middle" font-weight="bold">–</text>
<text x="632.2" y="1228.2" font-size="19.5" text-anchor="middle" font-weight="bold">–</text>
<text x="662.3" y="1228.2" font-size="19.5" text-anchor="middle" font-weight="bold">–</text>
<text x="698.2" y="1228.2" font-size="19.5" text-anchor="middle" font-weight="bold">–</text>
<text x="732.8" y="1228.2" font-size="19.5" text-anchor="middle" font-weight="bold">–</text>
<text x="768.3" y="1228.2" font-size="19.5" text-anchor="middle" font-weight="bold">–</text>
<text x="798.8" y="1228.2" font-size="19.5" text-anchor="middle" font-weight="bold">–</text>
<text x="832.7" y="1228.2" font-size="19.5" text-anchor="middle" font-weight="bold">–</text>
<text x="865.8" y="1228.2" font-size="19.5" text-anchor="middle" font-weight="bold">–</text>
<text x="898.3" y="1228.2" font-size="19.5" text-anchor="middle" font-weight="bold">–</text>
<text x="930.8" y="1228.2" font-size="19.5" text-anchor="middle" font-weight="bold">–</text>
<text x="962" y="1228.2" font-size="19.5" text-anchor="middle" font-weight="bold">–</text>
<text x="995.9" y="1228.2" font-size="19.5" text-anchor="middle" font-weight="bold">–</text>
<text x="436.5" y="1251" font-size="18.9" text-anchor="middle">14</text>
<text x="469.4" y="1251" font-size="18.9" text-anchor="middle">26</text>
<text x="501.4" y="1251" font-size="18.9" text-anchor="middle">39</text>
<text x="537.4" y="1251" font-size="18.9" text-anchor="middle">51</text>
<text x="568.5" y="1251" font-size="18.9" text-anchor="middle">61</text>
<text x="600" y="1251" font-size="18.9" text-anchor="middle">71</text>
<text x="632.6" y="1251" font-size="18.9" text-anchor="middle">82</text>
<text x="664.7" y="1251" font-size="18.9" text-anchor="middle">94</text>
<text x="694.7" y="1251" font-size="18.9" text-anchor="middle">106</text>
<text x="732.8" y="1251" font-size="18.9" text-anchor="middle">117</text>
<text x="764.3" y="1251" font-size="18.9" text-anchor="middle">130</text>
<text x="798.2" y="1251" font-size="18.9" text-anchor="middle">141</text>
<text x="831.3" y="1251" font-size="18.9" text-anchor="middle">152</text>
<text x="864.8" y="1251" font-size="18.9" text-anchor="middle">164</text>
<text x="897.3" y="1251" font-size="18.9" text-anchor="middle">176</text>
<text x="930.8" y="1247.5" font-size="19.5" text-anchor="middle" font-weight="bold">–</text>
<text x="962" y="1247.5" font-size="19.5" text-anchor="middle" font-weight="bold">–</text>
<text x="995.9" y="1247.5" font-size="19.5" text-anchor="middle" font-weight="bold">–</text>
<text x="436.6" y="1273.8" font-size="18.9" text-anchor="middle">13</text>
<text x="470.2" y="1273.8" font-size="18.9" text-anchor="middle">18</text>
<text x="501.1" y="1273.8" font-size="18.9" text-anchor="middle">24</text>
<text x="536.6" y="1273.8" font-size="18.9" text-anchor="middle">30</text>
<text x="569.5" y="1273.8" font-size="18.9" text-anchor="middle">34</text>
<text x="600.7" y="1273.8" font-size="18.9" text-anchor="middle">39</text>
<text x="632" y="1273.8" font-size="18.9" text-anchor="middle">44</text>
<text x="664.7" y="1273.8" font-size="18.9" text-anchor="middle">49</text>
<text x="701.5" y="1273.8" font-size="18.9" text-anchor="middle">54</text>
<text x="737.7" y="1273.8" font-size="18.9" text-anchor="middle">58</text>
<text x="768.9" y="1273.8" font-size="18.9" text-anchor="middle">63</text>
<text x="799.8" y="1273.8" font-size="18.9" text-anchor="middle">68</text>
<text x="835.9" y="1273.8" font-size="18.9" text-anchor="middle">73</text>
<text x="867.8" y="1273.8" font-size="18.9" text-anchor="middle">78</text>
<text x="899.3" y="1273.8" font-size="18.9" text-anchor="middle">83</text>
<text x="928.9" y="1273.8" font-size="18.9" text-anchor="middle">87</text>
<text x="962" y="1273.8" font-size="18.9" text-anchor="middle">92</text>
<text x="995.9" y="1270.9" font-size="19.5" text-anchor="middle" font-weight="bold">–</text>
<text x="438.2" y="1347.7" font-size="18.9" text-anchor="middle">8</text>
<text x="473.3" y="1347.7" font-size="18.9" text-anchor="middle">19</text>
<text x="504.8" y="1347.7" font-size="18.9" text-anchor="middle">31</text>
<text x="542" y="1347.7" font-size="18.9" text-anchor="middle">43</text>
<text x="574.1" y="1347.7" font-size="18.9" text-anchor="middle">53</text>
<text x="604.6" y="1347.7" font-size="18.9" text-anchor="middle">61</text>
<text x="636.5" y="1347.7" font-size="18.9" text-anchor="middle">68</text>
<text x="669.4" y="1347.7" font-size="18.9" text-anchor="middle">74</text>
<text x="704.5" y="1347.7" font-size="18.9" text-anchor="middle">80</text>
<text x="735.8" y="1347.7" font-size="18.9" text-anchor="middle">84</text>
<text x="768.3" y="1347.7" font-size="18.9" text-anchor="middle">89</text>
<text x="799.8" y="1347.7" font-size="18.9" text-anchor="middle">94</text>
<text x="834.9" y="1347.7" font-size="18.9" text-anchor="middle">98</text>
<text x="867.4" y="1347.8" font-size="19.5" text-anchor="middle" font-weight="bold">–</text>
<text x="900.9" y="1347.8" font-size="19.5" text-anchor="middle" font-weight="bold">–</text>
<text x="930.8" y="1347.8" font-size="19.5" text-anchor="middle" font-weight="bold">–</text>
<text x="962" y="1347.8" font-size="19.5" text-anchor="middle" font-weight="bold">–</text>
<text x="995.9" y="1347.8" font-size="19.5" text-anchor="middle" font-weight="bold">–</text>
<text x="438.2" y="1371.8" font-size="18.9" text-anchor="middle">5</text>
<text x="473.3" y="1371.8" font-size="18.9" text-anchor="middle">12</text>
<text x="506.1" y="1371.8" font-size="18.9" text-anchor="middle">18</text>
<text x="542" y="1371.8" font-size="18.9" text-anchor="middle">25</text>
<text x="573.1" y="1371.8" font-size="18.9" text-anchor="middle">31</text>
<text x="605.6" y="1371.8" font-size="18.9" text-anchor="middle">38</text>
<text x="636.5" y="1371.8" font-size="18.9" text-anchor="middle">44</text>
<text x="669.4" y="1371.8" font-size="18.9" text-anchor="middle">49</text>
<text x="704.5" y="1371.8" font-size="18.9" text-anchor="middle">54</text>
<text x="736.2" y="1371.8" font-size="18.9" text-anchor="middle">59</text>
<text x="768.3" y="1371.8" font-size="18.9" text-anchor="middle">63</text>
<text x="799.8" y="1371.8" font-size="18.9" text-anchor="middle">68</text>
<text x="834.9" y="1371.8" font-size="18.9" text-anchor="middle">72</text>
<text x="865.4" y="1371.8" font-size="18.9" text-anchor="middle">77</text>
<text x="897.9" y="1371.8" font-size="18.9" text-anchor="middle">82</text>
<text x="933.4" y="1371.8" font-size="18.9" text-anchor="middle">87</text>
<text x="966.9" y="1371.8" font-size="18.9" text-anchor="middle">92</text>
<text x="995.9" y="1370.5" font-size="19.5" text-anchor="middle" font-weight="bold">–</text>
<text x="438.2" y="1393.3" font-size="19.5" text-anchor="middle" font-weight="bold">–</text>
<text x="473" y="1395.8" font-size="18.9" text-anchor="middle">5</text>
<text x="506.2" y="1395.8" font-size="18.9" text-anchor="middle">10</text>
<text x="542.3" y="1395.8" font-size="18.9" text-anchor="middle">14</text>
<text x="574.1" y="1395.8" font-size="18.9" text-anchor="middle">19</text>
<text x="606" y="1395.8" font-size="18.9" text-anchor="middle">24</text>
<text x="636.5" y="1395.8" font-size="18.9" text-anchor="middle">29</text>
<text x="669.4" y="1395.8" font-size="18.9" text-anchor="middle">33</text>
<text x="703.9" y="1395.8" font-size="18.9" text-anchor="middle">38</text>
<text x="735.8" y="1395.8" font-size="18.9" text-anchor="middle">42</text>
<text x="768.3" y="1395.8" font-size="18.9" text-anchor="middle">45</text>
<text x="799.8" y="1395.8" font-size="18.9" text-anchor="middle">49</text>
<text x="834.9" y="1395.8" font-size="18.9" text-anchor="middle">52</text>
<text x="863.8" y="1395.8" font-size="18.9" text-anchor="middle">57</text>
<text x="897" y="1395.8" font-size="18.9" text-anchor="middle">62</text>
<text x="933.4" y="1395.8" font-size="18.9" text-anchor="middle">67</text>
<text x="965.9" y="1395.8" font-size="18.9" text-anchor="middle">71</text>
<text x="995.9" y="1395.8" font-size="18.9" text-anchor="middle">75</text>
<text x="389.8" y="1445.4" font-size="24.3" text-anchor="end">60</text>
<text x="389.8" y="1524.5" font-size="24.3" text-anchor="end">50</text>
<text x="389.8" y="1604.1" font-size="24.3" text-anchor="end">40</text>
<text x="389.8" y="1682.4" font-size="24.3" text-anchor="end">30</text>
<text x="389.8" y="1761.9" font-size="24.3" text-anchor="end">20</text>
<text x="389.8" y="1839.8" font-size="24.3" text-anchor="end">10</text>
<text transform="translate(323.8,1570.5) rotate(-90)" font-size="23.55">Твердость HRC</text>
<text x="437.2" y="1856.6" font-size="23.5" text-anchor="middle">1,5</text>
<text x="503.3" y="1856.6" font-size="23.5" text-anchor="middle">4,5</text>
<text x="569.4" y="1856.6" font-size="23.5" text-anchor="middle">7,5</text>
<text x="635.6" y="1856.6" font-size="23.5" text-anchor="middle">10,5</text>
<text x="701.7" y="1856.6" font-size="23.5" text-anchor="middle">13,5</text>
<text x="767.8" y="1856.6" font-size="23.5" text-anchor="middle">16,5</text>
<text x="833.9" y="1856.6" font-size="23.5" text-anchor="middle">19,5</text>
<text x="900" y="1856.6" font-size="23.5" text-anchor="middle">22,5</text>
<text x="966.2" y="1856.6" font-size="23.5" text-anchor="middle">25,5</text>
<text x="1032.3" y="1856.6" font-size="23.5" text-anchor="middle">28,5</text>
<text x="1098.4" y="1856.6" font-size="23.5" text-anchor="middle">31,5</text>
<text x="1164.5" y="1856.6" font-size="23.5" text-anchor="middle">34,5</text>
<text x="566.8" y="1887.3" font-size="23.66">Расстояние от охлаждаемого торца образца, мм</text>
<text x="572.4" y="1940.7" font-size="25.05">Рисунок А.12 — Сталь марки 30ХМА</text>
<text x="883.4" y="1473.3" font-size="23.7">Нормализация <tspan dx="1.5">–</tspan><tspan dx="1.9">880 ºC.</tspan></text>
<text x="883.4" y="1500.4" font-size="23.7">Закалка <tspan dx="1.5">–</tspan><tspan dx="1.9">880 ºC</tspan></text>
<path d="M422.2,1487.6 C424.8,1488.2 429.8,1489.1 438.0,1491.0 C446.2,1492.9 460.1,1496.3 471.2,1499.1 C482.3,1501.9 493.4,1504.9 504.4,1507.9 C515.4,1510.9 526.3,1513.5 537.3,1516.9 C548.3,1520.3 559.4,1524.2 570.5,1528.5 C581.6,1532.8 592.7,1538.2 603.7,1543.0 C614.7,1547.8 625.5,1552.0 636.5,1557.0 C647.5,1562.0 658.7,1567.9 669.7,1573.3 C680.7,1578.7 691.6,1584.5 702.6,1589.6 C713.6,1594.7 724.8,1599.6 735.8,1603.8 C746.8,1608.0 757.7,1611.2 768.7,1614.7 C779.7,1618.2 790.8,1621.4 801.8,1624.6 C812.8,1627.8 824.1,1630.8 835.0,1633.6 C845.9,1636.4 856.4,1639.0 867.4,1641.5 C878.4,1644.0 889.7,1646.2 900.8,1648.3 C911.9,1650.4 923.1,1652.2 934.1,1654.0 C945.1,1655.8 955.9,1657.5 966.9,1659.2 C977.9,1661.0 989.1,1663.1 1000.2,1664.5 C1011.3,1665.9 1022.4,1666.5 1033.4,1667.4 C1044.4,1668.3 1055.3,1669.1 1066.2,1669.8 C1077.1,1670.5 1087.9,1670.9 1098.9,1671.6 C1109.9,1672.3 1121.2,1673.0 1132.3,1674.0 C1143.4,1675.0 1156.9,1676.5 1165.6,1677.3 C1174.3,1678.1 1181.2,1678.4 1184.3,1678.6" fill="none" stroke="#111" stroke-width="4.2" stroke-dasharray="35.5 3.2" stroke-linejoin="round"/>
<path d="M431.7,1500.5 C432.8,1500.7 431.4,1500.3 438.0,1501.8 C444.6,1503.3 460.1,1506.6 471.2,1509.3 C482.3,1512.0 493.4,1514.9 504.4,1518.1 C515.4,1521.2 526.3,1524.5 537.3,1528.2 C548.3,1531.9 559.4,1536.2 570.5,1540.4 C581.6,1544.6 592.7,1548.9 603.7,1553.5 C614.7,1558.1 625.5,1562.8 636.5,1567.9 C647.5,1573.0 658.7,1578.8 669.7,1584.2 C680.7,1589.6 691.6,1595.2 702.6,1600.4 C713.6,1605.6 724.8,1610.7 735.8,1615.3 C746.8,1619.9 757.7,1624.3 768.7,1628.2 C779.7,1632.1 790.8,1635.6 801.8,1638.6 C812.8,1641.6 824.1,1643.8 835.0,1646.3 C845.9,1648.8 856.4,1651.0 867.4,1653.3 C878.4,1655.5 889.7,1657.7 900.8,1659.8 C911.9,1661.9 923.1,1664.2 934.1,1666.0 C945.1,1667.8 955.9,1669.4 966.9,1670.9 C977.9,1672.4 989.1,1673.7 1000.2,1675.2 C1011.3,1676.7 1022.4,1678.2 1033.4,1679.7 C1044.4,1681.2 1055.3,1682.9 1066.2,1684.2 C1077.1,1685.5 1087.9,1686.4 1098.9,1687.3 C1109.9,1688.2 1121.2,1688.5 1132.3,1689.4 C1143.4,1690.3 1158.6,1691.8 1165.6,1692.5 C1172.6,1693.2 1172.9,1693.6 1174.4,1693.8" fill="none" stroke="#111" stroke-width="4.2" stroke-linejoin="round"/>
<path d="M433.0,1520.8 C433.8,1521.0 431.6,1520.0 438.0,1522.2 C444.4,1524.5 460.1,1529.7 471.2,1534.3 C482.3,1538.9 493.4,1544.0 504.4,1549.9 C515.4,1555.8 526.3,1562.6 537.3,1569.6 C548.3,1576.6 559.4,1584.6 570.5,1591.9 C581.6,1599.2 592.7,1606.8 603.7,1613.6 C614.7,1620.4 625.5,1627.2 636.5,1633.0 C647.5,1638.8 658.7,1643.7 669.7,1648.5 C680.7,1653.3 691.6,1657.7 702.6,1662.1 C713.6,1666.5 724.8,1671.0 735.8,1675.0 C746.8,1679.0 757.7,1682.6 768.7,1685.8 C779.7,1689.0 790.8,1691.3 801.8,1693.9 C812.8,1696.5 824.1,1699.0 835.0,1701.6 C845.9,1704.2 856.4,1707.0 867.4,1709.5 C878.4,1712.0 889.7,1714.2 900.8,1716.5 C911.9,1718.8 923.1,1721.0 934.1,1723.0 C945.1,1725.0 955.9,1726.5 966.9,1728.2 C977.9,1729.9 993.6,1731.9 1000.2,1732.9 C1006.8,1733.9 1005.6,1733.9 1006.7,1734.1" fill="none" stroke="#111" stroke-width="4.2" stroke-linejoin="round"/>
<path d="M430.3,1528.2 C431.6,1528.7 431.2,1528.5 438.0,1531.0 C444.8,1533.5 460.1,1538.5 471.2,1543.2 C482.3,1547.9 493.4,1553.5 504.4,1559.4 C515.4,1565.3 526.3,1571.4 537.3,1578.4 C548.3,1585.4 559.4,1593.8 570.5,1601.4 C581.6,1609.0 592.7,1616.7 603.7,1623.8 C614.7,1630.9 625.5,1638.0 636.5,1643.8 C647.5,1649.6 658.7,1654.1 669.7,1658.7 C680.7,1663.3 691.6,1667.4 702.6,1671.6 C713.6,1675.8 724.8,1679.7 735.8,1683.8 C746.8,1687.9 757.7,1692.4 768.7,1696.0 C779.7,1699.6 790.8,1702.7 801.8,1705.4 C812.8,1708.1 824.1,1709.9 835.0,1712.4 C845.9,1714.9 856.4,1718.1 867.4,1720.6 C878.4,1723.0 889.7,1724.8 900.8,1727.1 C911.9,1729.3 923.1,1731.7 934.1,1734.1 C945.1,1736.5 955.9,1739.3 966.9,1741.7 C977.9,1744.1 993.4,1747.2 1000.2,1748.5 C1007.0,1749.8 1006.5,1749.2 1007.8,1749.3" fill="none" stroke="#111" stroke-width="4.2" stroke-dasharray="35.5 3.2" stroke-linejoin="round"/>
<text x="1454" y="2133" font-size="25" text-anchor="end">37</text>
</svg>
</body></html>
